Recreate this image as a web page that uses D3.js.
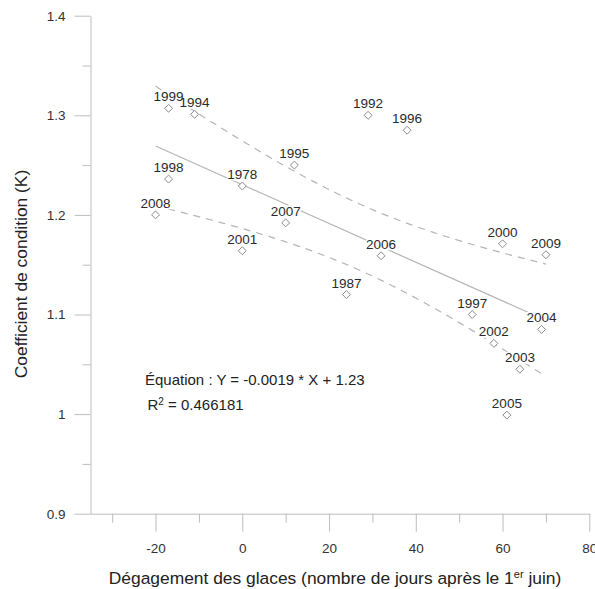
<!DOCTYPE html>
<html>
<head>
<meta charset="utf-8">
<script src="https://cdn.jsdelivr.net/npm/d3@7/dist/d3.min.js"></script>
<style>
  html, body { margin: 0; padding: 0; background: #fff; }
  svg { display: block; font-family: "Liberation Sans", Arial, sans-serif; }
</style>
</head>
<body>
<svg id="chart" width="595" height="589"></svg>
<script>
// ---- Data ----
const years = ["1999","1994","1998","2008","1978","1995","2007","1992","1996","2000","2009","2006","2001","1987","1997","2004","2002","2003","2005"];
const iceFree = [-17, -11, -17, -20, 0, 12, 10, 29, 38, 60, 70, 32, 0, 24, 53, 69, 58, 64, 61];
const condition = [1.307, 1.301, 1.236, 1.200, 1.229, 1.250, 1.192, 1.300, 1.285, 1.171, 1.160, 1.159, 1.164, 1.120, 1.100, 1.085, 1.071, 1.045, 0.999];
const xMajorTicks = [-20, 0, 20, 40, 60, 80];
const xMinorTicks = [-30, -10, 10, 30, 50, 70];
const xTickLabels = ["-20", "0", "20", "40", "60", "80"];
const yMajorTicks = [0.9, 1.0, 1.1, 1.2, 1.3, 1.4];
const yMinorTicks = [0.95, 1.05, 1.15, 1.25, 1.35];
const yTickLabels = ["0.9", "1", "1.1", "1.2", "1.3", "1.4"];
const equationText = "Équation : Y = -0.0019 * X + 1.23";
const r2Value = "0.466181";
const tCrit = 2.1098; // Student t, 95%, df = 17

const svg = d3.select("#chart");
const x = d3.scaleLinear().domain([-35, 80]).range([90.5, 589.3]);
const y = d3.scaleLinear().domain([0.9, 1.4]).range([513.7, 15.7]);

const axisColor = "#bdbdbd";
const textColor = "#333";
const tickFont = "13.5px";

// ---- Axes ----
const gy = svg.append("g").attr("transform", "translate(90.5,0)");
gy.call(d3.axisLeft(y).tickValues(yMinorTicks).tickSize(8).tickSizeOuter(0).tickFormat(""));
gy.call(g => g.selectAll(".domain").remove());
const gy2 = svg.append("g").attr("transform", "translate(90.5,0)");
gy2.call(d3.axisLeft(y).tickValues(yMajorTicks).tickSize(16).tickSizeOuter(0).tickPadding(9)
  .tickFormat((d, i) => yTickLabels[i]));
[gy, gy2].forEach(g => {
  g.selectAll("line").attr("stroke", axisColor);
  g.selectAll(".domain").attr("stroke", axisColor);
  g.selectAll("text").attr("fill", textColor).style("font-size", tickFont).style("font-family", "Liberation Sans, Arial, sans-serif");
});

const gx = svg.append("g").attr("transform", "translate(0,513.7)");
gx.call(d3.axisBottom(x).tickValues(xMinorTicks).tickSize(9).tickSizeOuter(0).tickFormat(""));
gx.call(g => g.selectAll(".domain").remove());
const gx2 = svg.append("g").attr("transform", "translate(0,513.7)");
gx2.call(d3.axisBottom(x).tickValues(xMajorTicks).tickSize(18).tickSizeOuter(0).tickPadding(12)
  .tickFormat((d, i) => xTickLabels[i]));
[gx, gx2].forEach(g => {
  g.selectAll("line").attr("stroke", axisColor);
  g.selectAll(".domain").attr("stroke", axisColor);
  g.selectAll("text").attr("fill", textColor).style("font-size", tickFont).style("font-family", "Liberation Sans, Arial, sans-serif");
});

// ---- Axis titles ----
const xt = svg.append("text")
  .attr("x", 335).attr("y", 584)
  .attr("text-anchor", "middle")
  .attr("fill", "#222")
  .style("font-size", "17.4px");
xt.append("tspan").text("Dégagement des glaces (nombre de jours après le 1");
xt.append("tspan").attr("dy", -6).style("font-size", "11px").text("er");
xt.append("tspan").attr("dy", 6).text(" juin)");

svg.append("text")
  .attr("transform", "translate(27,274) rotate(-90)")
  .attr("text-anchor", "middle")
  .attr("fill", "#222")
  .style("font-size", "17.4px")
  .text("Coefficient de condition (K)");

// ---- Regression & confidence band computed from data ----
const pts = iceFree.map((v, i) => ({ x: v, y: condition[i], label: years[i] }));
const n = pts.length;
const xbar = d3.mean(iceFree), ybar = d3.mean(condition);
const Sxx = d3.sum(iceFree, v => (v - xbar) ** 2);
const Sxy = d3.sum(pts, p => (p.x - xbar) * (p.y - ybar));
const slope = Sxy / Sxx, intercept = ybar - slope * xbar;
const sse = d3.sum(pts, p => (p.y - (intercept + slope * p.x)) ** 2);
const s = Math.sqrt(sse / (n - 2));
const [xmin, xmax] = d3.extent(iceFree);
const grid = d3.range(0, 101).map(i => xmin + (xmax - xmin) * i / 100);
const fit = v => intercept + slope * v;
const half = v => tCrit * s * Math.sqrt(1 / n + (v - xbar) ** 2 / Sxx);

const line = d3.line().x(d => x(d[0])).y(d => y(d[1]));
svg.append("path")
  .attr("d", line([[xmin, fit(xmin)], [xmax, fit(xmax)]]))
  .attr("fill", "none").attr("stroke", "#b5b5b5").attr("stroke-width", 1.2);
svg.append("path")
  .attr("d", line(grid.map(v => [v, fit(v) + half(v)])))
  .attr("fill", "none").attr("stroke", "#b5b5b5").attr("stroke-width", 1.2).attr("stroke-dasharray", "7,6");
svg.append("path")
  .attr("d", line(grid.map(v => [v, fit(v) - half(v)])))
  .attr("fill", "none").attr("stroke", "#b5b5b5").attr("stroke-width", 1.2).attr("stroke-dasharray", "7,6");

// ---- Points ----
const sym = d3.symbol().type(d3.symbolDiamond2).size(40);
svg.append("g").selectAll("path").data(pts).join("path")
  .attr("transform", d => `translate(${x(d.x)},${y(d.y)})`)
  .attr("d", sym)
  .attr("fill", "#fff").attr("stroke", "#8a8a8a").attr("stroke-width", 1);

// labels with white background
const lg = svg.append("g");
const labels = lg.selectAll("text").data(pts).join("text")
  .attr("x", d => x(d.x)).attr("y", d => y(d.y) - 7)
  .attr("text-anchor", "middle")
  .attr("fill", "#2a2a2a")
  .style("font-size", "13.5px")
  .text(d => d.label);
labels.each(function() {
  const b = this.getBBox();
  lg.insert("rect", "text").attr("x", b.x).attr("y", b.y + 1.5).attr("width", b.width).attr("height", b.height - 3).attr("fill", "#fff");
});

// ---- Equation text ----
svg.append("text").attr("x", 145).attr("y", 385).attr("fill", "#222").style("font-size", "15px").text(equationText);
const r2 = svg.append("text").attr("x", 147.5).attr("y", 410).attr("fill", "#222").style("font-size", "15px");
r2.append("tspan").text("R");
r2.append("tspan").attr("dy", -5.5).style("font-size", "10px").text("2");
r2.append("tspan").attr("dy", 5.5).text(" = " + r2Value);
</script>
</body>
</html>
